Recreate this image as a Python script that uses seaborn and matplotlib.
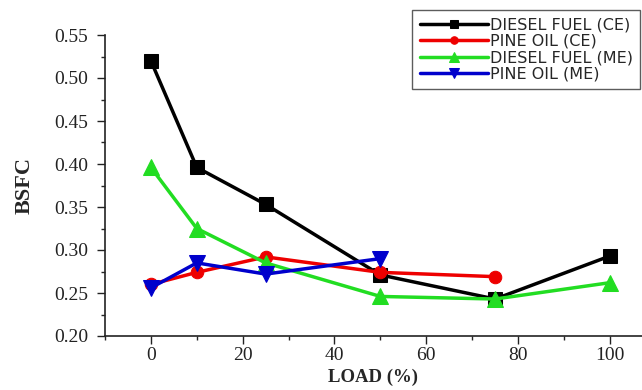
import matplotlib
matplotlib.use("Agg")
import matplotlib.pyplot as plt
import pandas as pd
import seaborn as sns

# Valores.
carga = [0, 10, 25, 50, 75, 100]
diesel_ce = [0.520, 0.396, 0.353, 0.271, 0.243, 0.293]
pinho_ce = [0.260, 0.274, 0.292, 0.274, 0.269]
diesel_me = [0.396, 0.325, 0.285, 0.246, 0.243, 0.262]
pinho_me = [0.256, 0.285, 0.272, 0.290]

series = [
    ("DIESEL FUEL (CE)", diesel_ce, "black", "s", 10),
    ("PINE OIL (CE)", pinho_ce, "#ee0000", "o", 9),
    ("DIESEL FUEL (ME)", diesel_me, "#22dd22", "^", 11),
    ("PINE OIL (ME)", pinho_me, "#0000cc", "v", 11),
]

sns.set_style("ticks")
plt.rcParams["font.family"] = ["Liberation Serif", "DejaVu Serif"]

fig = plt.figure(figsize=(6.42, 3.90), dpi=100)
ax = fig.add_axes([105 / 642, 54 / 390, 537 / 642, 301 / 390])

for nome, valores, cor, marcador, tam in series:
    df = pd.DataFrame({"LOAD": carga[:len(valores)], "BSFC": valores})
    sns.lineplot(data=df, x="LOAD", y="BSFC", ax=ax, color=cor, marker=marcador,
                 markersize=tam, markeredgecolor=cor, linewidth=2.5, label=nome)

ax.set_xlim(-9.8, 107)
ax.set_ylim(0.20, 0.55)
ax.set_xticks([0, 20, 40, 60, 80, 100])
ax.set_xticks(range(-10, 107, 10), minor=True)
ax.set_yticks([0.20, 0.25, 0.30, 0.35, 0.40, 0.45, 0.50, 0.55])
ax.set_yticks([0.225 + 0.05 * i for i in range(7)], minor=True)
ax.yaxis.set_major_formatter(matplotlib.ticker.FormatStrFormatter("%.2f"))
ax.tick_params(axis="both", which="major", labelsize=14, length=6, width=1,
               colors="#222222")
ax.tick_params(axis="y", which="major", pad=6)
ax.tick_params(axis="x", which="major", pad=2)
ax.tick_params(axis="both", which="minor", length=3, width=1)

sns.despine(ax=ax, top=True, right=True)
for lado in ["left", "bottom"]:
    ax.spines[lado].set_linewidth(1.2)
    ax.spines[lado].set_color("#222222")

ax.set_xlabel("LOAD (%)", fontsize=13.5, fontweight="bold", labelpad=3)
ax.set_ylabel("BSFC", fontsize=16, fontweight="bold", labelpad=14)

leg = ax.legend(loc="upper right", bbox_to_anchor=(640 / 642, 1 - 10 / 390),
                bbox_transform=fig.transFigure, frameon=True, fancybox=False,
                edgecolor="#333333", handlelength=4.3, handletextpad=0.1,
                labelspacing=0.1, borderpad=0.45, borderaxespad=0, markerscale=0.6,
                prop={"family": ["DejaVu Sans"], "size": 11.5})
leg.get_frame().set_linewidth(1.0)

plt.savefig("out.png", dpi=100)
